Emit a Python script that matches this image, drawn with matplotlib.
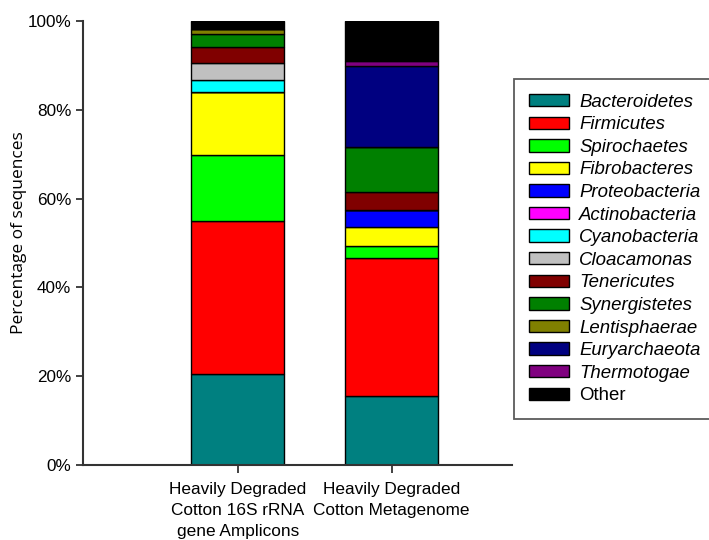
import numpy as np
import matplotlib
matplotlib.use('Agg')
import matplotlib.pyplot as plt
from matplotlib.ticker import FuncFormatter

plt.rcParams['font.family'] = ['Liberation Sans', 'DejaVu Sans']

samples = ['Heavily Degraded\nCotton 16S rRNA\ngene Amplicons',
           'Heavily Degraded\nCotton Metagenome']

phyla = ['Bacteroidetes', 'Firmicutes', 'Spirochaetes', 'Fibrobacteres',
         'Proteobacteria', 'Actinobacteria', 'Cyanobacteria', 'Cloacamonas',
         'Tenericutes', 'Synergistetes', 'Lentisphaerae', 'Euryarchaeota',
         'Thermotogae', 'Other']

colors = ['#008080', '#ff0000', '#00ff00', '#ffff00', '#0000ff', '#ff00ff',
          '#00ffff', '#c0c0c0', '#800000', '#008000', '#808000', '#000080',
          '#800080', '#000000']

# percentages per phylum: [amplicons, metagenome]
amplicons = [20.4, 34.6, 14.9, 14.2, 0.0, 0.0, 2.6, 3.9, 3.5, 3.0, 1.1, 0.0, 0.0, 1.8]
metagenome = [15.5, 31.2, 2.6, 4.3, 3.8, 0.0, 0.0, 0.0, 4.1, 10.2, 0.0, 18.2, 1.0, 9.1]

fig = plt.figure(figsize=(7.09, 5.40), dpi=100)
ax = fig.add_axes([0.117, 0.139, 0.605, 0.822])

x = np.arange(len(samples))
bottom = np.zeros(len(samples))
handles = []
for name, col, a, m in zip(phyla, colors, amplicons, metagenome):
    vals = np.array([a, m])
    bars = ax.bar(x, vals, 0.604, bottom=bottom, color=col,
                  edgecolor='black', linewidth=1.0, label=name)
    handles.append(bars)
    bottom += vals

ax.set_xlim(-1.005, 1.781)
ax.set_ylim(0, 100)
ax.set_yticks([0, 20, 40, 60, 80, 100])
ax.yaxis.set_major_formatter(FuncFormatter(lambda v, p: f'{v:.0f}%'))
ax.set_xticks(x)
ax.set_xticklabels(samples, fontsize=12.4, linespacing=1.5)
ax.tick_params(axis='y', labelsize=12.3, length=5, width=1.3, color='#333333')
ax.tick_params(axis='x', length=6, width=1.3, color='#333333', pad=6)
ax.set_ylabel('Percentage of sequences', fontsize=12.5, family='Open Sans')
ax.yaxis.set_label_coords(-0.13, 0.5225)

for side in ['top', 'right']:
    ax.spines[side].set_visible(False)
for side in ['left', 'bottom']:
    ax.spines[side].set_linewidth(1.5)
    ax.spines[side].set_color('#333333')

leg = fig.legend(handles=handles, labels=phyla, loc='upper left',
                 bbox_to_anchor=(0.725, 0.854), fontsize=13.4,
                 frameon=True, fancybox=False, edgecolor='#333333',
                 handlelength=2.15, handleheight=0.65, labelspacing=0.3,
                 borderpad=0.8, handletextpad=0.54, borderaxespad=0)
leg.get_frame().set_linewidth(1.3)
for t in leg.get_texts():
    if t.get_text() != 'Other':
        t.set_style('italic')

fig.savefig('out.png', dpi=100)
